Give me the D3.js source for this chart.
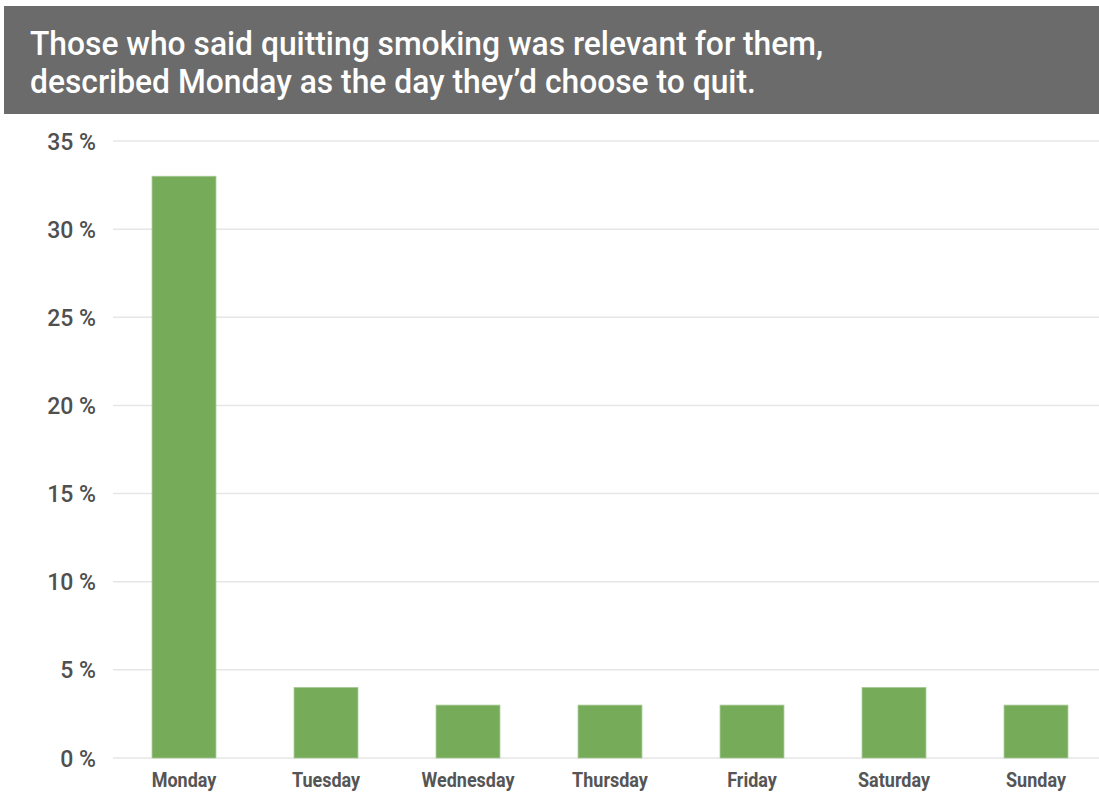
<!DOCTYPE html>
<html>
<head>
<meta charset="utf-8">
<script src="https://cdn.jsdelivr.net/npm/d3@7"></script>
<style>
  body { margin: 0; background: #fff; }
  svg { display: block; }
</style>
</head>
<body>
<div id="chart"></div>
<script>
// data
const days = ["Monday", "Tuesday", "Wednesday", "Thursday", "Friday", "Saturday", "Sunday"];
const shares = [33, 4, 3, 3, 3, 4, 3];
const yTicks = [0, 5, 10, 15, 20, 25, 30, 35];
const titleLines = ["Those who said quitting smoking was relevant for them,",
                    "described Monday as the day they\u2019d choose to quit."];

const width = 1099, height = 793;
const margin = {top: 141, right: -8, bottom: 35, left: 113};

const svg = d3.select("#chart").append("svg")
    .attr("width", width)
    .attr("height", height);

// header box
svg.append("rect")
    .attr("x", 4).attr("y", 6)
    .attr("width", width - 4).attr("height", 108)
    .attr("fill", "#6b6b6b");

// title, squeezed horizontally to look like a condensed face
svg.append("g").selectAll("g")
    .data(titleLines)
    .join("g")
    .attr("transform", (d, i) => `translate(30,${55 + i * 38}) scale(0.935,1)`)
    .append("text")
    .attr("fill", "#fff")
    .style("font-family", "Roboto, 'DejaVu Sans', sans-serif")
    .style("font-weight", "500")
    .style("font-size", "34px")
    .text(d => d);

// scales
const x = d3.scaleBand()
    .domain(days)
    .range([margin.left, width - margin.right])
    .paddingInner(0.55)
    .paddingOuter(0.275);

const y = d3.scaleLinear()
    .domain([0, 35])
    .range([height - margin.bottom, margin.top]);

// grid
svg.append("g").selectAll("line")
    .data(yTicks)
    .join("line")
    .attr("x1", margin.left)
    .attr("x2", width)
    .attr("y1", d => y(d))
    .attr("y2", d => y(d))
    .attr("stroke", "#e6e6e6")
    .attr("stroke-width", 1.5);

// y axis labels
const yAxis = d3.axisLeft(y)
    .tickValues(yTicks)
    .tickSize(0)
    .tickPadding(0)
    .tickFormat(d => d + " %");

svg.append("g")
    .attr("transform", `translate(96,0)`)
    .call(yAxis)
    .call(g => g.select(".domain").remove())
    .selectAll("text")
    .attr("fill", "#505050")
    .attr("dy", "0.35em")
    .style("font-family", "Roboto, 'Liberation Sans', sans-serif")
    .style("font-weight", "500")
    .style("font-size", "23px");

// bars
svg.append("g").selectAll("rect")
    .data(days.map((d, i) => ({day: d, v: shares[i]})))
    .join("rect")
    .attr("x", d => x(d.day))
    .attr("y", d => y(d.v))
    .attr("width", x.bandwidth())
    .attr("height", d => y(0) - y(d.v))
    .attr("fill", "#76ab59")
    .attr("stroke", "#a5c994")
    .attr("stroke-width", 0.8);

// x axis labels
const xAxis = d3.axisBottom(x).tickSize(0).tickPadding(0);
svg.append("g")
    .attr("transform", `translate(0,${y(0) + 19})`)
    .call(xAxis)
    .call(g => g.select(".domain").remove())
    .selectAll("text")
    .attr("fill", "#555")
    .attr("dy", "0.5em")
    .attr("transform", "scale(0.9,1)")
    .style("font-family", "Roboto, 'DejaVu Sans', sans-serif")
    .style("font-weight", "bold")
    .style("font-size", "20px");
</script>
</body>
</html>
